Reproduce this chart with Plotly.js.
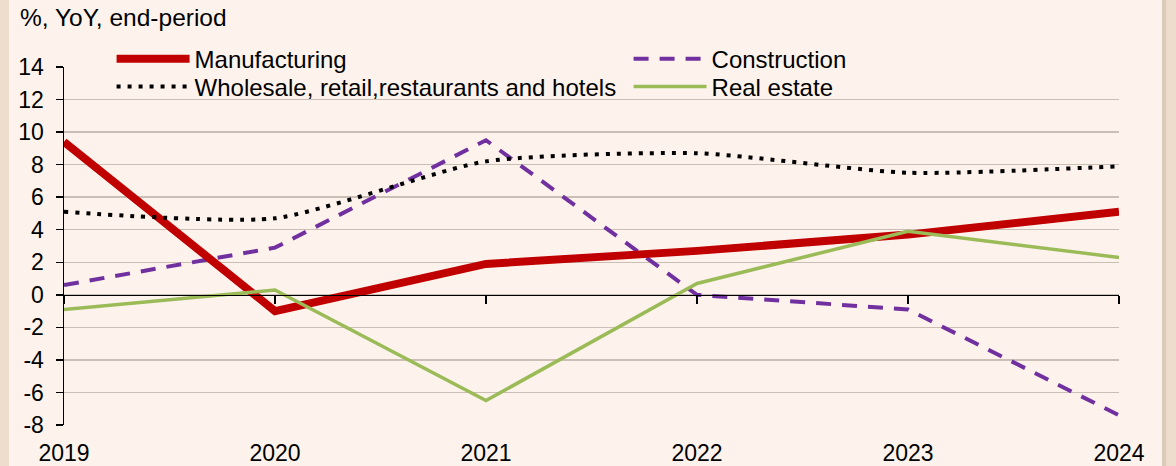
<!DOCTYPE html>
<html>
<head>
<meta charset="utf-8">
<script src="https://cdn.plot.ly/plotly-3.0.1.min.js"></script>
<style>
  html, body { margin: 0; padding: 0; background: #EEDDCD; width: 1176px; height: 466px; overflow: hidden; }
  #panel { position: absolute; left: 9px; top: 0; width: 1153px; height: 466px; }
  #shadow { position: absolute; left: 1162px; top: 0; width: 4px; height: 466px; background: #DCCBBB; }
</style>
</head>
<body>
<div id="panel"></div>
<div id="shadow"></div>
<script>
const years = [2019, 2020, 2021, 2022, 2023, 2024];
const manufacturing = [9.4, -1.0, 1.9, 2.7, 3.7, 5.1];
const construction = [0.6, 2.9, 9.5, 0.0, -0.9, -7.4];
const wholesale = [5.1, 4.7, 8.2, 8.7, 7.5, 7.9];
const realEstate = [-0.9, 0.3, -6.5, 0.7, 3.9, 2.3];
const yTicks = [-8, -6, -4, -2, 0, 2, 4, 6, 8, 10, 12, 14];
const names = ["Manufacturing", "Construction", "Wholesale, retail,restaurants and hotels", "Real estate"];

const FONT = "Liberation Sans, Arial, sans-serif";

const traces = [
  { x: years, y: construction, name: names[1], type: "scatter", mode: "lines", legend: "legend2",
    line: { color: "#7030A0", width: 4, dash: "15px,11px" }, xaxis: "x", yaxis: "y" },
  { x: years, y: manufacturing, name: names[0], type: "scatter", mode: "lines", legend: "legend",
    line: { color: "#C00000", width: 8 }, xaxis: "x", yaxis: "y" },
  { x: years, y: wholesale, name: names[2], type: "scatter", mode: "lines", legend: "legend3",
    line: { color: "#000000", width: 4, dash: "4px,7px", shape: "spline", smoothing: 0.6 }, xaxis: "x", yaxis: "y" },
  { x: years, y: realEstate, name: names[3], type: "scatter", mode: "lines", legend: "legend4",
    line: { color: "#9BBB59", width: 3.5 }, xaxis: "x2", yaxis: "y" }
];

const legendBase = { orientation: "h", xanchor: "left", yanchor: "top", bgcolor: "rgba(0,0,0,0)",
  itemwidth: 73, font: { family: FONT, size: 24, color: "#000" } };
const col1 = 0.0451, col2 = 0.0451 + 517 / 1055;
const row1 = 1.085, row2 = 1.007;

const layout = {
  width: 1153, height: 466,
  paper_bgcolor: "#FEF3EC", plot_bgcolor: "rgba(0,0,0,0)",
  margin: { l: 55, r: 43, t: 67, b: 41, pad: 0 },
  font: { family: FONT, size: 23, color: "#000000" },
  title: { text: "%, YoY, end-period", x: 11 / 1153, xanchor: "left", xref: "container",
           y: 1 - 17 / 466, yanchor: "middle", yref: "container", font: { family: FONT, size: 24.5, color: "#000" } },
  showlegend: true,
  legend: Object.assign({}, legendBase, { x: col1, y: row1 }),
  legend2: Object.assign({}, legendBase, { x: col2, y: row1 }),
  legend3: Object.assign({}, legendBase, { x: col1, y: row2 }),
  legend4: Object.assign({}, legendBase, { x: col2, y: row2 }),
  xaxis: { range: [2019, 2024], tickvals: years, ticktext: years.map(String), showgrid: false,
           showline: false, zeroline: false, ticks: "", ticklabelstandoff: 12,
           tickfont: { family: FONT, size: 23, color: "#000" }, fixedrange: true },
  xaxis2: { range: [2019, 2024], tickvals: years, overlaying: "x", anchor: "free", position: 8 / 22,
            showticklabels: false, showgrid: false, zeroline: false, showline: true,
            linecolor: "#000", linewidth: 1.5, ticks: "outside", ticklen: 8, tickwidth: 1.5, tickcolor: "#000" },
  yaxis: { range: [-8, 14], tickvals: yTicks, ticktext: yTicks.map(String), showgrid: true,
           gridcolor: "#CBBFB5", gridwidth: 1.5, zeroline: false, showline: true, linecolor: "#000",
           linewidth: 1.5, ticks: "outside", ticklen: 7, tickwidth: 1.5, tickcolor: "#000",
           ticklabelstandoff: 7, tickfont: { family: FONT, size: 23, color: "#000" }, fixedrange: true }
};

Plotly.newPlot("panel", traces, layout, { displayModeBar: false, staticPlot: true });
</script>
</body>
</html>
